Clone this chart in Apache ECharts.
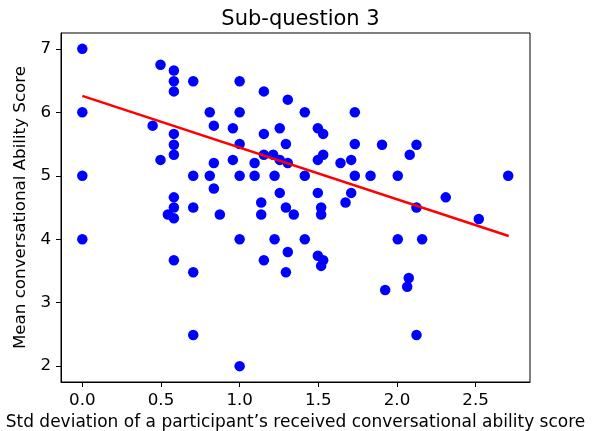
<!DOCTYPE html>
<html>
<head>
<meta charset="utf-8">
<script src="https://cdn.jsdelivr.net/npm/echarts@6/dist/echarts.min.js"></script>
<style>
html, body { margin: 0; padding: 0; background: #fff; }
#chart { width: 597px; height: 431px; }
</style>
</head>
<body>
<div id="chart"></div>
<script>
// std deviation of received score (x) and mean score (y)
var stdDev = [
  0, 0, 0, 0, 0.447, 0.497, 0.497, 0.544,
  0.582, 0.582, 0.582, 0.582, 0.582, 0.582, 0.582, 0.582, 0.582, 0.582,
  0.705, 0.705, 0.705, 0.705, 0.705, 0.81, 0.81, 0.836, 0.836, 0.836, 0.874,
  0.957, 0.957, 1.0, 1.0, 1.0, 1.0, 1.0, 1.0, 1.095, 1.095, 1.137, 1.137,
  1.154, 1.154, 1.154, 1.154, 1.213, 1.222, 1.222, 1.255, 1.255, 1.255,
  1.294, 1.294, 1.294, 1.306, 1.306, 1.306, 1.344, 1.414, 1.414, 1.414,
  1.497, 1.497, 1.497, 1.497, 1.518, 1.518, 1.518, 1.531, 1.531, 1.531,
  1.641, 1.673, 1.709, 1.709, 1.732, 1.732, 1.732, 1.832, 1.905, 1.925,
  2.005, 2.005, 2.065, 2.075, 2.081, 2.124, 2.124, 2.124, 2.16, 2.31, 2.52, 2.707
];
var meanScore = [
  7, 6, 5, 4, 5.79, 6.75, 5.25, 4.39,
  6.66, 6.49, 6.33, 5.66, 5.49, 5.33, 4.66, 4.5, 4.33, 3.67,
  6.49, 5.0, 4.5, 3.48, 2.49, 6.0, 5.0, 5.79, 5.2, 4.8, 4.39,
  5.75, 5.25, 6.49, 6.0, 5.5, 5.0, 4.0, 2.0, 5.2, 5.0, 4.58, 4.39,
  6.33, 5.66, 5.33, 3.67, 5.33, 5.0, 4.0, 5.75, 5.25, 4.73,
  5.5, 4.5, 3.48, 6.2, 5.2, 3.8, 4.39, 6.0, 5.0, 4.0,
  5.75, 5.25, 4.73, 3.74, 4.5, 4.39, 3.58, 5.66, 5.33, 3.67,
  5.2, 4.58, 5.25, 4.73, 6.0, 5.5, 5.0, 5.0, 5.49, 3.2,
  5.0, 4.0, 3.25, 3.39, 5.33, 5.49, 4.5, 2.49, 4.0, 4.66, 4.32, 5.0
];
// fitted line end points
var fitX = [0, 2.71];
var fitY = [6.26, 4.05];
var xTicks = [0, 0.5, 1, 1.5, 2, 2.5];
var yTicks = [2, 3, 4, 5, 6, 7];

var points = [];
for (var i = 0; i < stdDev.length; i++) {
  points.push([stdDev[i], meanScore[i]]);
}
var fitLine = [];
for (var j = 0; j < fitX.length; j++) {
  fitLine.push([fitX[j], fitY[j]]);
}

var font = 'DejaVu Sans';
var myChart = echarts.init(document.getElementById('chart'));
myChart.setOption({
  animation: false,
  backgroundColor: '#fff',
  title: {
    text: 'Sub-question 3',
    left: 295.5,
    textAlign: 'center',
    top: 4,
    textStyle: { fontFamily: font, fontSize: 21, fontWeight: 'normal', color: '#000' }
  },
  grid: {
    left: 61, right: 67, top: 33, bottom: 49,
    show: true, borderColor: '#000', borderWidth: 1,
    containLabel: false, outerBoundsMode: 'none'
  },
  xAxis: {
    type: 'value',
    min: -0.1355,
    max: 2.8455,
    name: 'Std deviation of a participant\u2019s received conversational ability score',
    nameLocation: 'middle',
    nameGap: 29,
    nameTextStyle: { fontFamily: font, fontSize: 17, color: '#000' },
    splitLine: { show: false },
    axisLine: { show: true, onZero: false, lineStyle: { color: '#000', width: 1 } },
    axisTick: { show: true, length: 5, lineStyle: { color: '#000' }, customValues: xTicks },
    axisLabel: {
      fontFamily: font, fontSize: 16.7, color: '#000', margin: 10,
      customValues: xTicks,
      formatter: function (v) { return v.toFixed(1); }
    }
  },
  yAxis: {
    type: 'value',
    min: 1.75,
    max: 7.25,
    name: 'Mean conversational Ability Score',
    nameLocation: 'middle',
    nameGap: 27,
    nameTextStyle: { fontFamily: font, fontSize: 16.7, color: '#000' },
    splitLine: { show: false },
    axisLine: { show: true, onZero: false, lineStyle: { color: '#000', width: 1 } },
    axisTick: { show: true, length: 5, lineStyle: { color: '#000' }, customValues: yTicks },
    axisLabel: {
      fontFamily: font, fontSize: 16.7, color: '#000', margin: 10,
      customValues: yTicks
    }
  },
  series: [
    {
      type: 'scatter',
      data: points,
      symbol: 'circle',
      symbolSize: 10.5,
      itemStyle: { color: '#0000ff', opacity: 1 },
      z: 2
    },
    {
      type: 'line',
      data: fitLine,
      symbol: 'none',
      lineStyle: { color: '#ff0000', width: 2.5 },
      z: 3
    }
  ]
});
</script>
</body>
</html>
